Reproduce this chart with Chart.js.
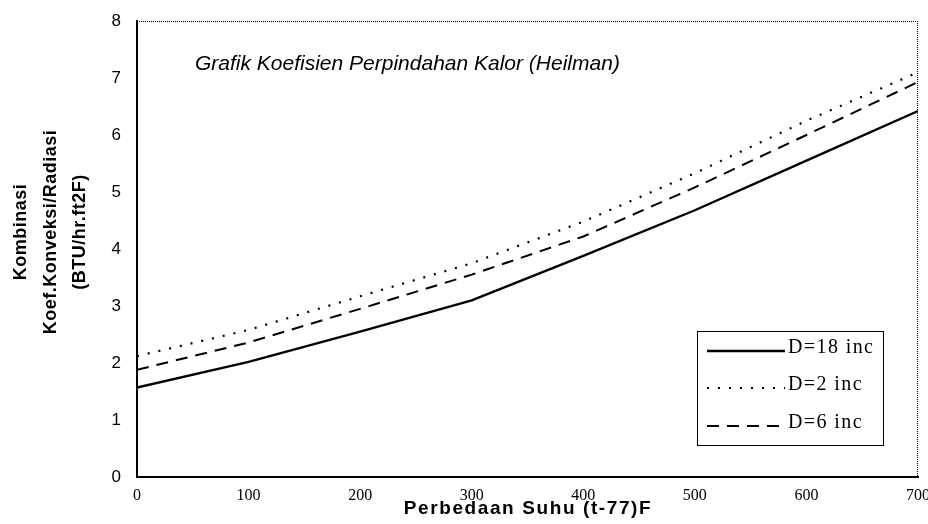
<!DOCTYPE html>
<html><head><meta charset="utf-8">
<script src="https://cdn.jsdelivr.net/npm/chart.js@4/dist/chart.umd.min.js"></script>
<style>html,body{margin:0;padding:0;background:#fff}#wrap{width:928px;height:524px}</style>
</head><body><div id="wrap"><canvas id="c" width="928" height="524"></canvas></div>
<script>
const xValues = [0, 100, 200, 300, 400, 500, 600, 700];
const d18 = [1.57, 2.02, 2.55, 3.1, 3.88, 4.68, 5.55, 6.42];
const d2  = [2.12, 2.58, 3.17, 3.75, 4.48, 5.33, 6.25, 7.1];
const d6  = [1.88, 2.36, 2.95, 3.55, 4.22, 5.08, 6.0, 6.93];
const seriesNames = ['D=18 inc', 'D=2 inc', 'D=6 inc'];
const chartTitle = 'Grafik Koefisien Perpindahan Kalor (Heilman)';
const xTitle = 'Perbedaan Suhu (t-77)F';
const yTitle = ['Kombinasi', 'Koef.Konveksi/Radiasi', '(BTU/hr.ft2F)'];

const toPts = arr => arr.map((v, i) => ({x: xValues[i], y: v}));
const styles = [
  {borderWidth: 2.4, borderDash: []},
  {borderWidth: 2.2, borderDash: [2, 9]},
  {borderWidth: 2, borderDash: [12, 8]}
];

const framePlugin = {
  id: 'frame',
  afterDraw(chart) {
    const {ctx, chartArea: a} = chart;
    ctx.save();
    ctx.strokeStyle = '#000';
    ctx.fillStyle = '#000';
    // dotted top/right frame
    ctx.lineWidth = 1;
    ctx.setLineDash([1, 1]);
    ctx.beginPath();
    ctx.moveTo(a.left, a.top + 0.5); ctx.lineTo(a.right, a.top + 0.5);
    ctx.moveTo(a.right - 0.5, a.top); ctx.lineTo(a.right - 0.5, a.bottom);
    ctx.stroke();
    ctx.setLineDash([]);
    // title
    ctx.font = 'italic 21px "Liberation Sans", Arial, sans-serif';
    ctx.textBaseline = 'middle';
    ctx.textAlign = 'left';
    ctx.fillText(chartTitle, 195, 64);
    // x axis title
    ctx.font = 'bold 19px "Liberation Sans", Arial, sans-serif';
    ctx.letterSpacing = '1.6px';
    ctx.textAlign = 'center';
    ctx.fillText(xTitle, 528, 509);
    // y axis title
    ctx.letterSpacing = '0.5px';
    ctx.font = 'bold 18px "Liberation Sans", Arial, sans-serif';
    const yxs = [21, 51, 80];
    yTitle.forEach((t, i) => {
      ctx.save();
      ctx.translate(yxs[i], 232);
      ctx.rotate(-Math.PI / 2);
      ctx.fillText(t, 0, 0);
      ctx.restore();
    });
    ctx.letterSpacing = '0px';
    // legend box
    const lx = 697, ly = 331, lw = 186, lh = 114;
    ctx.lineWidth = 1;
    ctx.strokeRect(lx + 0.5, ly + 0.5, lw, lh);
    ctx.font = '20px "Liberation Serif", "Times New Roman", serif';
    ctx.letterSpacing = '1.4px';
    ctx.textAlign = 'left';
    ctx.textBaseline = 'alphabetic';
    const rows = [353, 390, 428];
    chart.data.datasets.forEach((ds, i) => {
      const y = rows[i];
      ctx.beginPath();
      ctx.lineWidth = ds.borderWidth;
      ctx.setLineDash(ds.borderDash);
      ctx.moveTo(lx + 10, y - 2); ctx.lineTo(lx + 88, y - 2);
      ctx.stroke();
      ctx.setLineDash([]);
      ctx.fillText(seriesNames[i], lx + 91, y);
    });
    ctx.restore();
  }
};

new Chart(document.getElementById('c'), {
  type: 'line',
  data: {
    datasets: [d18, d2, d6].map((arr, i) => ({
      label: seriesNames[i],
      data: toPts(arr),
      borderColor: '#000',
      backgroundColor: '#000',
      borderWidth: styles[i].borderWidth,
      borderDash: styles[i].borderDash,
      pointRadius: 0,
      tension: 0,
      fill: false
    }))
  },
  options: {
    responsive: false,
    animation: false,
    layout: {padding: {top: 21, right: 10, left: 0, bottom: 0}},
    plugins: {legend: {display: false}, tooltip: {enabled: false}, title: {display: false}},
    scales: {
      x: {
        type: 'linear', min: 0, max: 700,
        ticks: {stepSize: 100, color: '#000', padding: 5, maxRotation: 0,
          font: {family: '"Liberation Serif", "Times New Roman", serif', size: 16}},
        grid: {display: false, drawTicks: true, tickLength: 4},
        border: {display: true, color: '#000', width: 2},
        title: {display: false},
        afterFit(s) { s.height = 47; s.paddingLeft = 0; s.paddingRight = 0; }
      },
      y: {
        min: 0, max: 8,
        ticks: {stepSize: 1, color: '#000', padding: 12,
          font: {family: '"Liberation Sans", Arial, sans-serif', size: 17}},
        grid: {display: false, drawTicks: true, tickLength: 4},
        border: {display: true, color: '#000', width: 2},
        title: {display: false},
        afterFit(s) { s.width = 137; s.paddingTop = 0; s.paddingBottom = 0; }
      }
    }
  },
  plugins: [framePlugin]
});
</script></body></html>
